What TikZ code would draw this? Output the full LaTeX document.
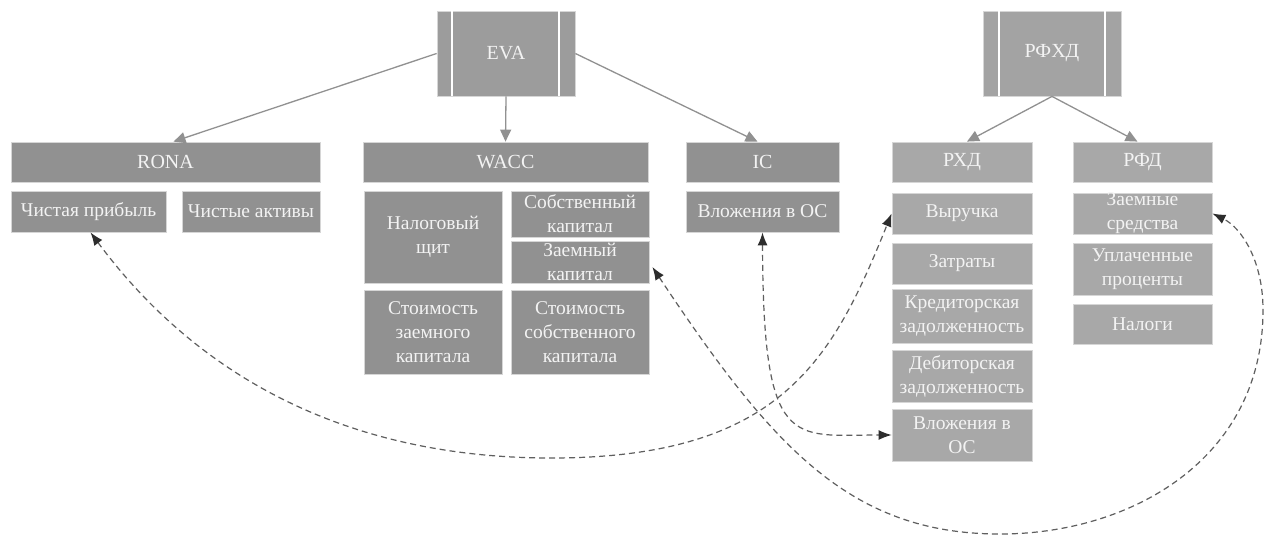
\documentclass[tikz,border=0pt]{standalone}
\usepackage{fontspec}
\setmainfont{Liberation Serif}
\usetikzlibrary{arrows.meta,calc}
\definecolor{topA}{RGB}{156,156,156}
\definecolor{boxA}{RGB}{145,145,145}
\definecolor{topB}{RGB}{163,163,163}
\definecolor{boxB}{RGB}{168,168,168}
\definecolor{edgec}{RGB}{214,214,214}
\definecolor{txtc}{RGB}{243,243,243}
\definecolor{treec}{RGB}{145,145,145}
\definecolor{dashc}{RGB}{95,95,95}
\definecolor{tipc}{RGB}{45,45,45}
\begin{document}
\begin{tikzpicture}[x=1pt,y=-1pt,
  basebox/.style={draw=edgec, line width=0.8pt, text=txtc, align=center, inner sep=0pt,
    font=\fontsize{19.5}{24}\selectfont},
  boxa/.style={basebox, fill=boxA},
  boxb/.style={basebox, fill=boxB},
  topa/.style={basebox, fill=topA, minimum width=138, minimum height=85, font=\fontsize{20}{24}\selectfont},
  topb/.style={basebox, fill=topB, minimum width=138, minimum height=85, font=\fontsize{20}{24}\selectfont},
  hdr/.style={font=\fontsize{20}{24}\selectfont},
  strip/.style={draw=white, line width=2pt},
  tree/.style={draw=treec, line width=1.3pt, -{Triangle[length=12pt,width=11pt]}},
  dl/.style={draw=dashc, line width=1.2pt, dash pattern=on 6pt off 4pt,
    {Latex[length=13pt,width=10pt,color=tipc]}-{Latex[length=13pt,width=10pt,color=tipc]}}]
\fill[white] (0,0) rectangle (1268,536);
\useasboundingbox (0,0) rectangle (1268,536);

% top boxes
\node[topa] (eva) at (506,53.5) {EVA};
\draw[strip] ($(eva.north west)+(15,0)$) -- ($(eva.south west)+(15,0)$);
\draw[strip] ($(eva.north east)+(-16,0)$) -- ($(eva.south east)+(-16,0)$);
\node[topb] (rfhd) at (1052,53.5) {РФХД};
\draw[strip] ($(rfhd.north west)+(16,0)$) -- ($(rfhd.south west)+(16,0)$);
\draw[strip] ($(rfhd.north east)+(-16,0)$) -- ($(rfhd.south east)+(-16,0)$);

% EVA group
\node[boxa,hdr,minimum width=309,minimum height=40] (rona) at (165.5,162) {RONA};
\node[boxa,minimum width=155,minimum height=41] (np) at (88.5,211.5) {Чистая прибыль};
\node[boxa,minimum width=138,minimum height=41] (na) at (251,211.5) {Чистые активы};

\node[boxa,hdr,minimum width=285,minimum height=40] (wacc) at (505.5,162) {WACC};
\node[boxa,minimum width=138,minimum height=92] (ns) at (433,237) {Налоговый\\щит};
\node[boxa,minimum width=138,minimum height=46] (sk) at (580,214) {Собственный\\капитал};
\node[boxa,minimum width=138,minimum height=42] (zk) at (580,262) {Заемный\\капитал};
\node[boxa,minimum width=138,minimum height=84] (szk) at (433,332) {Стоимость\\заемного\\капитала};
\node[boxa,minimum width=138,minimum height=84] (ssk) at (580,332) {Стоимость\\собственного\\капитала};

\node[boxa,hdr,minimum width=153,minimum height=40] (ic) at (762.5,162) {IC};
\node[boxa,minimum width=153,minimum height=41] (ic1) at (762.5,211.5) {Вложения в ОС};

% RFHD group
\node[boxb,hdr,minimum width=140,minimum height=40] (rhd) at (962,162) {РХД};
\node[boxb,hdr,minimum width=139,minimum height=40] (rfd) at (1142.5,162) {РФД};
\node[boxb,minimum width=140,minimum height=41] (v1) at (962,213.5) {Выручка};
\node[boxb,minimum width=140,minimum height=41] (v2) at (962,263.5) {Затраты};
\node[boxb,minimum width=140,minimum height=54] (v3) at (962,316) {Кредиторская\\задолженность};
\node[boxb,minimum width=140,minimum height=52] (v4) at (962,376) {Дебиторская\\задолженность};
\node[boxb,minimum width=140,minimum height=52] (v5) at (962,435) {Вложения в\\ОС};
\node[boxb,minimum width=139,minimum height=41] (f1) at (1142.5,213.5) {Заемные\\средства};
\node[boxb,minimum width=139,minimum height=52] (f2) at (1142.5,269) {Уплаченные\\проценты};
\node[boxb,minimum width=139,minimum height=40] (f3) at (1142.5,324) {Налоги};

% tree connectors
\draw[tree] (eva.west) -- ($(rona.north)+(8,0)$);
\draw[tree] (eva.south) -- (wacc.north);
\draw[tree] (eva.east) -- ($(ic.north)+(-5,0)$);
\draw[tree] (rfhd.south) -- ($(rhd.north)+(5,0)$);
\draw[tree] (rfhd.south) -- ($(rfd.north)+(-5,0)$);

% dashed links
\coordinate (c1) at (551,458);
\coordinate (c2) at (1000,534);
\coordinate (c3) at (1263,310);
\draw[dl] ($(np.south)+(2,0)$) .. controls (199.5,379.5) and (351,458) .. (c1)
  .. controls (781,458) and (832.8,359.6) .. (v1.west);
\draw[dl] ($(zk.east)+(3,5)$) .. controls (772,447) and (850,534) .. (c2)
  .. controls (1130,534) and (1263,460) .. (c3)
  .. controls (1263,260) and (1241,227.5) .. (f1.east);
\draw[dl] (ic1.south) .. controls (763,452) and (792,435) .. (v5.west);
\end{tikzpicture}
\end{document}
